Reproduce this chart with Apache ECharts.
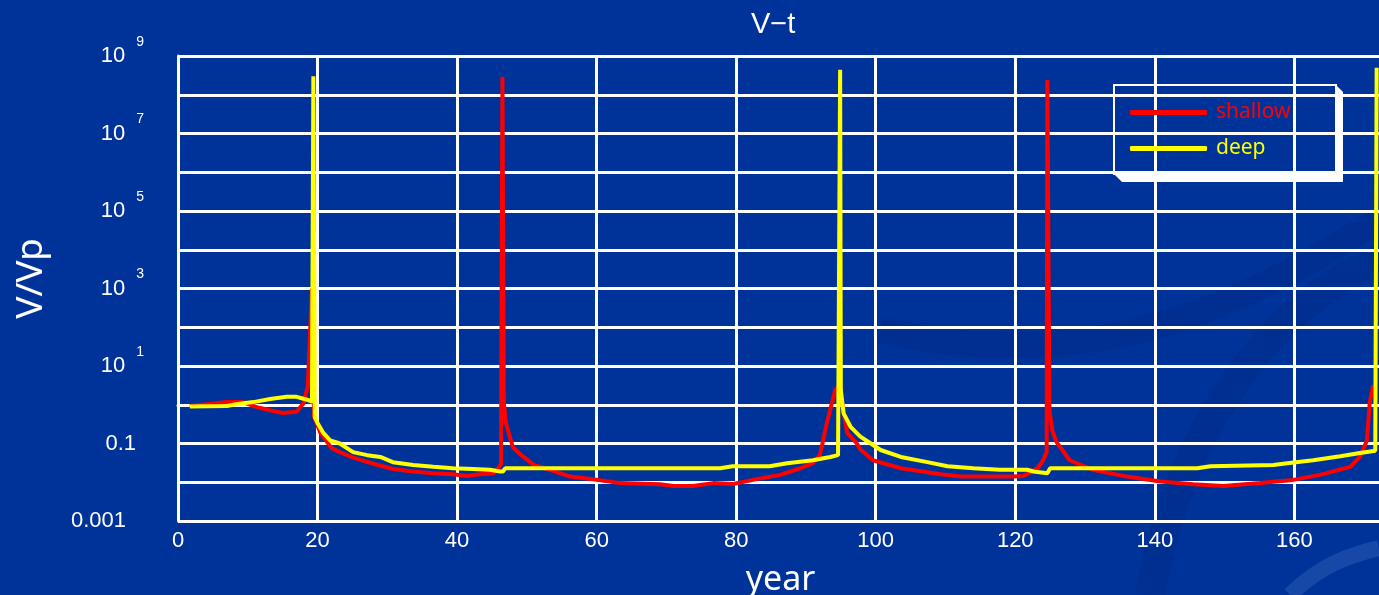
<!DOCTYPE html>
<html>
<head>
<meta charset="utf-8">
<title>V-t</title>
<script src="https://cdn.jsdelivr.net/npm/echarts@6/dist/echarts.min.js"></script>
<style>
  html, body { margin: 0; padding: 0; background: #003399; }
  #main { width: 1379px; height: 595px; }
</style>
</head>
<body>
<div id="main"></div>
<script>
// shallow (red) : year / V/Vp
var shallowT = [1.7, 4.5, 7.0, 9.3, 11.3, 13.2, 15.0, 17.0, 18.0, 18.6, 19.2, 19.5, 20.4, 22.0, 23.2, 25.1, 28.0, 30.8, 33.7, 36.6, 39.4, 41.4, 43.3, 45.2, 45.9, 46.3, 46.5, 46.7, 47.0, 48.0, 49.2, 51.0, 54.4, 56.2, 59.5, 63.4, 69.1, 71.0, 73.8, 76.7, 79.6, 82.4, 86.3, 89.2, 91.0, 92.0, 93.0, 94.2, 94.6, 95.2, 95.9, 97.3, 97.8, 98.8, 99.6, 103.6, 109.3, 112.2, 119.7, 121.2, 123.2, 124.0, 124.5, 124.6, 124.9, 125.3, 125.9, 127.8, 131.1, 136.0, 140.8, 145.5, 149.8, 155.1, 159.8, 163.7, 168.0, 169.4, 170.4, 170.8, 171.3];
var shallowV = [0.93, 1.05, 1.17, 1.17, 0.87, 0.72, 0.61, 0.66, 1.1, 3.0, 1000, 0.5, 0.19, 0.076, 0.06, 0.043, 0.030, 0.022, 0.019, 0.017, 0.016, 0.0145, 0.016, 0.017, 0.023, 0.03, 2.9e8, 1.1, 0.34, 0.08, 0.05, 0.028, 0.018, 0.014, 0.012, 0.0095, 0.0089, 0.008, 0.008, 0.0095, 0.009, 0.0115, 0.0155, 0.023, 0.031, 0.05, 0.34, 2.4, 2.9, 1.1, 0.19, 0.1, 0.07, 0.05, 0.037, 0.023, 0.016, 0.014, 0.014, 0.0145, 0.023, 0.037, 0.06, 2.4e8, 0.72, 0.22, 0.11, 0.037, 0.021, 0.014, 0.0105, 0.0089, 0.008, 0.0095, 0.0115, 0.0155, 0.025, 0.045, 0.12, 1.1, 3.2];

// deep (yellow)
var deepT = [1.7, 7.0, 8.5, 10.8, 13.2, 15.6, 17.0, 18.5, 19.2, 19.4, 19.6, 20.0, 20.8, 21.8, 23.2, 25.1, 27.1, 29.0, 30.8, 33.7, 36.6, 39.4, 42.3, 44.7, 46.2, 46.6, 46.9, 77.7, 79.5, 84.8, 87.3, 91.0, 93.5, 94.6, 94.9, 95.0, 95.4, 96.4, 97.8, 99.3, 100.7, 103.6, 107.4, 110.3, 114.0, 117.8, 121.7, 122.6, 124.6, 125.0, 146.1, 148.0, 157.0, 159.0, 162.7, 166.6, 169.4, 171.6, 171.8];
var deepV = [0.9, 0.93, 1.05, 1.17, 1.4, 1.6, 1.6, 1.35, 1.2, 3e8, 0.48, 0.34, 0.19, 0.12, 0.1, 0.06, 0.05, 0.045, 0.033, 0.028, 0.025, 0.023, 0.022, 0.021, 0.019, 0.019, 0.023, 0.023, 0.026, 0.026, 0.031, 0.037, 0.045, 0.05, 4.4e8, 2.4, 0.6, 0.27, 0.15, 0.1, 0.068, 0.045, 0.033, 0.026, 0.023, 0.021, 0.021, 0.019, 0.017, 0.023, 0.023, 0.026, 0.028, 0.031, 0.037, 0.047, 0.057, 0.065, 5e8];

var seriesNames = ['shallow', 'deep'];
var seriesColors = ['#ff0000', '#ffff00'];

// decades shown on the V/Vp axis (log10 of value)
var yMinExp = -3, yMaxExp = 9;

// axis is linear in log10(V/Vp)
function pairs(t, v) {
    return t.map(function (x, i) { return [x, Math.log(v[i]) / Math.LN10]; });
}

var chart = echarts.init(document.getElementById('main'));
var font = 'Liberation Sans, Arial, sans-serif';
var wide = 'Noto Sans, sans-serif';

var option = {
    backgroundColor: '#003399',
    title: {
        text: 'V\u2212t',
        left: 746,
        top: 5,
        textStyle: { color: '#fff', fontSize: 29, fontWeight: 'normal', fontFamily: font }
    },
    grid: { left: 178, top: 56, width: 1221, height: 465, containLabel: false, outerBoundsMode: 'none' },
    legend: {
        orient: 'vertical',
        left: 1125,
        top: 97,
        itemWidth: 77,
        itemHeight: 5,
        itemGap: 15,
        icon: 'roundRect',
        textStyle: { fontSize: 21, fontFamily: wide, padding: [0, 0, 0, 4] },
        data: [
            { name: seriesNames[0], textStyle: { color: seriesColors[0] } },
            { name: seriesNames[1], textStyle: { color: seriesColors[1] } }
        ]
    },
    xAxis: {
        type: 'value',
        min: 0,
        max: 175,
        interval: 20,
        name: 'year',
        nameLocation: 'middle',
        nameGap: 42,
        nameTextStyle: { color: '#fff', fontSize: 34, fontFamily: wide, padding: [0, 16, 0, 0] },
        axisLine: { lineStyle: { color: '#fff', width: 3 } },
        axisTick: { show: false },
        axisLabel: {
            color: '#fff', fontSize: 22, fontFamily: font, margin: 9,
            formatter: function (v) { return v % 20 === 0 ? String(v) : ''; }
        },
        splitLine: { show: true, lineStyle: { color: '#fff', width: 3 } }
    },
    yAxis: {
        type: 'value',
        min: yMinExp,
        max: yMaxExp,
        interval: 1,
        name: 'V/Vp',
        nameLocation: 'middle',
        nameRotate: 90,
        nameGap: 128,
        nameTextStyle: { color: '#fff', fontSize: 37, fontFamily: wide, padding: [0, 0, 0, 20] },
        axisLine: { show: true, lineStyle: { color: '#fff', width: 3 } },
        axisTick: { show: false },
        splitLine: { show: true, lineStyle: { color: '#fff', width: 3 } },
        axisLabel: {
            margin: 34,
            color: '#fff',
            fontFamily: font,
            formatter: function (e) {
                e = Math.round(e);
                if ((e - yMinExp) % 2 !== 0) return '';
                if (e >= 1) return '{b|10}{s|' + e + '}';
                if (e === -1) return '{m|0.1}';
                return '{n|0.001}';
            },
            rich: {
                b: { fontSize: 22, color: '#fff', fontFamily: font, lineHeight: 42 },
                s: { fontSize: 14, color: '#fff', fontFamily: font, verticalAlign: 'top', lineHeight: 14, padding: [0, 0, 0, 11] },
                m: { fontSize: 22, color: '#fff', fontFamily: font, padding: [0, 8, 0, 0] },
                n: { fontSize: 22, color: '#fff', fontFamily: font, padding: [0, 18, 0, 0] }
            }
        }
    },
    graphic: [
        {
            type: 'bezierCurve', z: -10, silent: true,
            shape: { x1: 880, y1: 330, cpx1: 1100, cpy1: 380, cpx2: 1250, cpy2: 300, x2: 1379, y2: 220 },
            style: { stroke: 'rgba(0,30,110,0.18)', lineWidth: 26, fill: null }
        },
        {
            type: 'bezierCurve', z: -10, silent: true,
            shape: { x1: 1150, y1: 595, cpx1: 1180, cpy1: 420, cpx2: 1280, cpy2: 300, x2: 1379, y2: 260 },
            style: { stroke: 'rgba(0,30,110,0.16)', lineWidth: 30, fill: null }
        },
        {
            type: 'bezierCurve', z: -10, silent: true,
            shape: { x1: 1290, y1: 595, cpx1: 1320, cpy1: 565, cpx2: 1350, cpy2: 555, x2: 1379, y2: 548 },
            style: { stroke: 'rgba(90,130,210,0.25)', lineWidth: 16, fill: null }
        },
        {
            type: 'rect', z: 5, silent: true,
            shape: { x: 1114, y: 85, width: 222, height: 89 },
            style: { stroke: '#fff', lineWidth: 2, fill: null }
        },
        {
            type: 'polygon', z: 5, silent: true,
            shape: { points: [[1335, 84], [1343, 92], [1343, 182], [1122, 182], [1114, 174], [1335, 174]] },
            style: { fill: '#fff' }
        }
    ],
    series: [
        {
            name: seriesNames[0],
            type: 'line',
            showSymbol: false,
            symbol: 'none',
            lineStyle: { color: seriesColors[0], width: 4 },
            itemStyle: { color: seriesColors[0] },
            data: pairs(shallowT, shallowV)
        },
        {
            name: seriesNames[1],
            type: 'line',
            showSymbol: false,
            symbol: 'none',
            lineStyle: { color: seriesColors[1], width: 4 },
            itemStyle: { color: seriesColors[1] },
            data: pairs(deepT, deepV)
        }
    ]
};
chart.setOption(option);
</script>
</body>
</html>
